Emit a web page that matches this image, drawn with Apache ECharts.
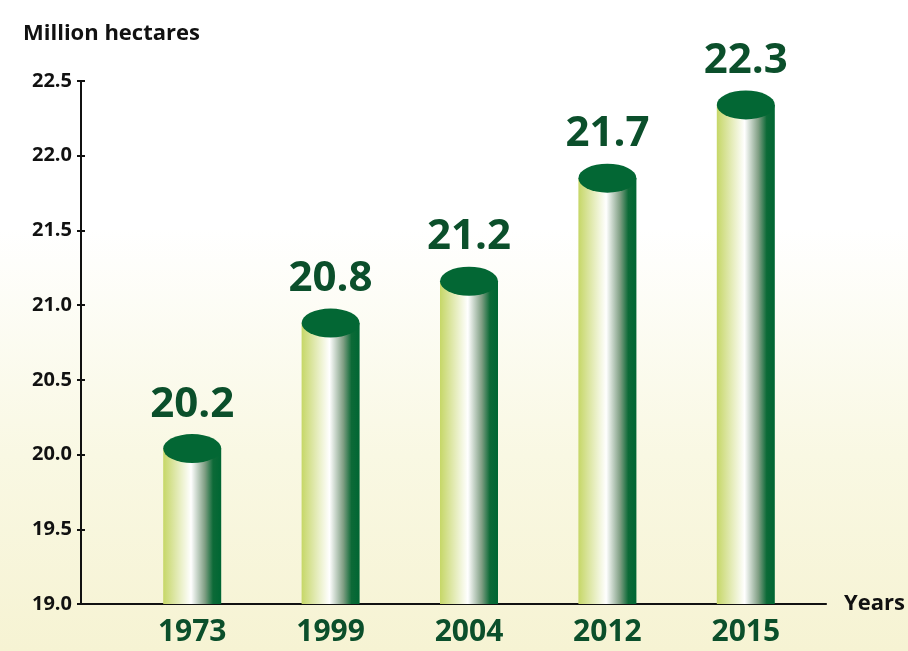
<!DOCTYPE html>
<html>
<head>
<meta charset="utf-8">
<script src="https://cdn.jsdelivr.net/npm/echarts@6/dist/echarts.min.js"></script>
<style>
  html, body { margin: 0; padding: 0; }
  #chart {
    width: 908px; height: 651px;
    background: linear-gradient(to bottom, #ffffff 0%, #ffffff 35%, #f9f8e3 70%, #f6f3d3 100%);
  }
</style>
</head>
<body>
<div id="chart"></div>
<script>
// 数据
var years = ['1973', '1999', '2004', '2012', '2015'];
// 柱子的高度 (从图上量出来的)
var barHeights = [20.04, 20.88, 21.16, 21.85, 22.34];
// 柱子上面写的数字
var valueLabels = ['20.2', '20.8', '21.2', '21.7', '22.3'];
var yTicks = ['19.0', '19.5', '20.0', '20.5', '21.0', '21.5', '22.0', '22.5'];

var chart = echarts.init(document.getElementById('chart'));

var font = '"Open Sans", Lato, sans-serif';
var darkGreen = '#0b4f2b';

var option = {
  backgroundColor: 'transparent',
  animation: false,
  title: {
    text: 'Million hectares',
    left: 18,
    top: 18,
    textStyle: { fontFamily: font, fontWeight: 'bold', fontSize: 22, color: '#111' }
  },
  grid: [
    // 坐标轴用
    { left: 81, right: 81, top: 81, bottom: 47 },
    // 柱子用
    { left: 123, right: 93, top: 81, bottom: 47 }
  ],
  xAxis: [
    {
      gridIndex: 0,
      type: 'value',
      min: 0, max: 1,
      axisLine: { show: true, lineStyle: { color: '#111', width: 2 } },
      axisTick: { show: false },
      axisLabel: { show: false },
      splitLine: { show: false },
      name: 'Years',
      nameLocation: 'end',
      nameGap: 18,
      nameTextStyle: { fontFamily: font, fontWeight: 'bold', fontSize: 22, color: '#111' }
    },
    {
      gridIndex: 1,
      type: 'category',
      data: years,
      axisLine: { show: false },
      axisTick: { show: false },
      axisLabel: {
        margin: 13,
        fontFamily: font, fontWeight: 'bold', fontSize: 30, color: darkGreen
      }
    }
  ],
  yAxis: [
    {
      gridIndex: 0,
      type: 'value',
      min: 19, max: 22.5, interval: 0.5,
      axisLine: { show: true, lineStyle: { color: '#111', width: 2 } },
      axisTick: { show: true, length: 4, lineStyle: { color: '#111', width: 2 } },
      axisLabel: {
        margin: 9,
        fontFamily: font, fontWeight: 'bold', fontSize: 20, color: '#111',
        formatter: function (v) { return yTicks[Math.round((v - 19) / 0.5)]; }
      },
      splitLine: { show: false }
    },
    {
      // 刻度朝里的一半
      gridIndex: 0,
      type: 'value',
      min: 19, max: 22.5, interval: 0.5,
      position: 'left',
      axisLine: { show: false },
      axisTick: { show: true, inside: true, length: 4, lineStyle: { color: '#111', width: 2 } },
      axisLabel: { show: false },
      splitLine: { show: false }
    },
    {
      gridIndex: 1,
      type: 'value',
      min: 19, max: 22.5,
      show: false
    }
  ],
  series: [
    {
      // 圆柱的身体
      type: 'bar',
      xAxisIndex: 1, yAxisIndex: 2,
      barWidth: 58,
      data: barHeights,
      itemStyle: {
        color: new echarts.graphic.LinearGradient(0, 0, 1, 0, [
          { offset: 0, color: '#c6d767' },
          { offset: 0.18, color: '#dbe5a0' },
          { offset: 0.48, color: '#ffffff' },
          { offset: 0.72, color: '#7f9e83' },
          { offset: 0.86, color: '#0c6a37' },
          { offset: 1, color: '#006633' }
        ])
      },
      label: {
        show: true,
        position: 'top',
        distance: 23,
        fontFamily: font, fontWeight: 'bold', fontSize: 42, color: darkGreen,
        formatter: function (p) { return valueLabels[p.dataIndex]; }
      }
    },
    {
      // 圆柱的顶
      type: 'pictorialBar',
      xAxisIndex: 1, yAxisIndex: 2,
      symbol: 'circle',
      symbolSize: [58, 29],
      symbolPosition: 'end',
      symbolOffset: [0, '-50%'],
      data: barHeights,
      itemStyle: { color: '#036734' },
      z: 3
    }
  ]
};

chart.setOption(option);
</script>
</body>
</html>
